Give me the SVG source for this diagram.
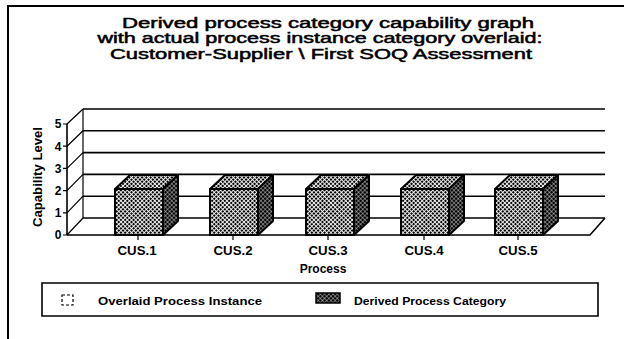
<svg xmlns="http://www.w3.org/2000/svg" width="624" height="339" viewBox="0 0 624 339">
  <defs>
    <!-- dithered fills for the bar faces -->
    <pattern id="dotFront" width="3" height="3" patternUnits="userSpaceOnUse" patternTransform="rotate(45)">
      <rect width="3" height="3" fill="#fff"/>
      <rect width="2.1" height="2.1" fill="#000"/>
    </pattern>
    <pattern id="dotSide" width="3" height="3" patternUnits="userSpaceOnUse" patternTransform="rotate(45)">
      <rect width="3" height="3" fill="#fff"/>
      <rect width="2.6" height="2.6" fill="#000"/>
    </pattern>
    <style>
      .frame { fill: none; stroke: #000; stroke-width: 2; }
      .grid { fill: none; stroke: #000; stroke-width: 1.6; }
      .thin { fill: none; stroke: #000; stroke-width: 1.2; }
      .face { stroke: #000; stroke-width: 2; stroke-linejoin: round; }
      .front { fill: url(#dotFront); }
      .side { fill: url(#dotSide); }
      .title { font-family: "Liberation Sans", Arial, sans-serif; font-size: 14px; fill: #000; stroke: #000; stroke-width: 0.5; text-anchor: middle; }
      .lbl { font-family: "Liberation Sans", Arial, sans-serif; font-weight: bold; fill: #000; }
      .cat { font-size: 12px; text-anchor: middle; }
      .num { font-size: 12px; text-anchor: middle; }
      .leg { font-size: 11.5px; }
    </style>
  </defs>

  <!-- page frame -->
  <path class="frame" d="M8,339 V6 H624"/>

  <!-- title -->
  <g id="title">
    <text class="title" x="328" y="27.5" textLength="412" lengthAdjust="spacingAndGlyphs">Derived process category capability graph</text>
    <text class="title" x="320" y="43.3" textLength="445" lengthAdjust="spacingAndGlyphs">with actual process instance category overlaid:</text>
    <text class="title" x="321" y="59" textLength="422" lengthAdjust="spacingAndGlyphs">Customer-Supplier \ First SOQ Assessment</text>
  </g>

  <!-- axes, walls and floor -->
  <g id="axes">
    <!-- back wall grid lines, levels 0..5 -->
    <path class="grid" d="M83,218 H605 M83,196.2 H605 M83,174.4 H605 M83,152.6 H605 M83,130.8 H605 M83,109 H605"/>
    <!-- back wall left edge and side wall diagonals -->
    <path class="thin" d="M83,109 V218"/>
    <path class="thin" d="M67,235 L83,218 M67,212.8 L83,196.2 M67,190.6 L83,174.4 M67,168.4 L83,152.6 M67,146.2 L83,130.8 M67,124 L83,109"/>
    <!-- front value axis and ticks -->
    <path class="grid" d="M67,124 V235"/>
    <path class="thin" d="M63,235 H67 M63,212.8 H67 M63,190.6 H67 M63,168.4 H67 M63,146.2 H67 M63,124 H67"/>
    <!-- floor -->
    <path class="grid" d="M67,235 H590 L605,218"/>
    <!-- category ticks -->
    <path class="thin" d="M138,235 V240 M233,235 V240 M328,235 V240 M424,235 V240 M518,235 V240"/>
  </g>

  <!-- axis labels -->
  <g id="y-axis-labels" class="lbl num">
    <text x="58" y="239">0</text>
    <text x="58" y="217">1</text>
    <text x="58" y="195">2</text>
    <text x="58" y="173">3</text>
    <text x="58" y="151">4</text>
    <text x="58" y="128">5</text>
  </g>
  <text class="lbl" font-size="12.5" text-anchor="middle" transform="translate(42,177) rotate(-90)" textLength="100" lengthAdjust="spacingAndGlyphs">Capability Level</text>

  <!-- bars: derived process category, level 2 -->
  <g id="bar-cus1">
    <path class="face front" d="M115,189 L130,175 H178 L163,189 Z"/>
    <path class="face side" d="M163,189 L178,175 V221 L163,235 Z"/>
    <rect class="face front" x="115" y="189" width="48" height="46"/>
  </g>
  <g id="bar-cus2">
    <path class="face front" d="M210,189 L225,175 H273 L258,189 Z"/>
    <path class="face side" d="M258,189 L273,175 V221 L258,235 Z"/>
    <rect class="face front" x="210" y="189" width="48" height="46"/>
  </g>
  <g id="bar-cus3">
    <path class="face front" d="M306,189 L321,175 H369 L354,189 Z"/>
    <path class="face side" d="M354,189 L369,175 V221 L354,235 Z"/>
    <rect class="face front" x="306" y="189" width="48" height="46"/>
  </g>
  <g id="bar-cus4">
    <path class="face front" d="M401,189 L416,175 H464 L449,189 Z"/>
    <path class="face side" d="M449,189 L464,175 V221 L449,235 Z"/>
    <rect class="face front" x="401" y="189" width="48" height="46"/>
  </g>
  <g id="bar-cus5">
    <path class="face front" d="M495,189 L510,175 H558 L543,189 Z"/>
    <path class="face side" d="M543,189 L558,175 V221 L543,235 Z"/>
    <rect class="face front" x="495" y="189" width="48" height="46"/>
  </g>

  <!-- category labels -->
  <g id="categories" class="lbl cat">
    <text x="137" y="255" textLength="39" lengthAdjust="spacingAndGlyphs">CUS.1</text>
    <text x="233" y="255" textLength="39" lengthAdjust="spacingAndGlyphs">CUS.2</text>
    <text x="328" y="255" textLength="39" lengthAdjust="spacingAndGlyphs">CUS.3</text>
    <text x="424" y="255" textLength="39" lengthAdjust="spacingAndGlyphs">CUS.4</text>
    <text x="518" y="255" textLength="39" lengthAdjust="spacingAndGlyphs">CUS.5</text>
  </g>
  <text class="lbl" font-size="12" x="323" y="273" text-anchor="middle">Process</text>

  <!-- legend -->
  <g id="legend">
    <path class="grid" d="M42,283 H598 V316 H42 Z"/>
    <rect x="62" y="295" width="11" height="10" fill="none" stroke="#000" stroke-width="1.2" stroke-dasharray="3 2"/>
    <text class="lbl leg" x="98" y="305" textLength="164" lengthAdjust="spacingAndGlyphs">Overlaid Process Instance</text>
    <rect x="316" y="293" width="24" height="10" fill="url(#dotSide)" stroke="#000" stroke-width="1.5"/>
    <text class="lbl leg" x="354" y="305" textLength="152" lengthAdjust="spacingAndGlyphs">Derived Process Category</text>
  </g>
</svg>
